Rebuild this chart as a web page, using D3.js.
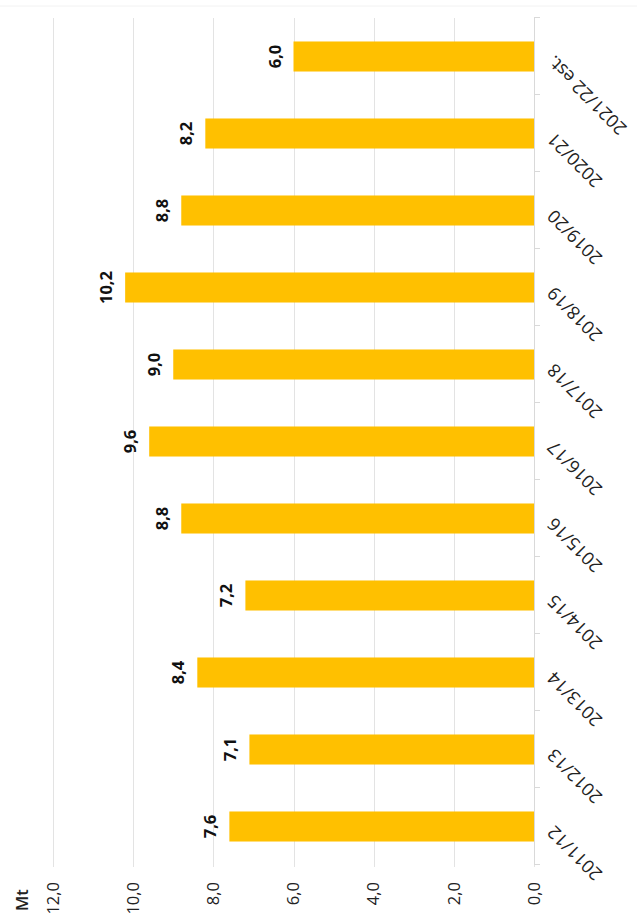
<!DOCTYPE html>
<html>
<head>
<meta charset="utf-8">
<script src="https://cdn.jsdelivr.net/npm/d3@7/dist/d3.min.js"></script>
<style>
  html, body { margin: 0; padding: 0; background: #fff; }
  svg { display: block; }
  text { font-family: "Open Sans", "Noto Sans", sans-serif; }
</style>
</head>
<body>
<div id="chart"></div>
<script>
// Production by season, in million tonnes
const seasons = ["2011/12", "2012/13", "2013/14", "2014/15", "2015/16", "2016/17",
                 "2017/18", "2018/19", "2019/20", "2020/21", "2021/22 est."];
const production = [7.6, 7.1, 8.4, 7.2, 8.8, 9.6, 9.0, 10.2, 8.8, 8.2, 6.0];
const valueTicks = [0, 2, 4, 6, 8, 10, 12];
const unitLabel = "Mt";

const pageW = 637, pageH = 923;
// The chart is laid out as a column chart of width pageH and height pageW,
// then turned a quarter turn counter-clockwise onto the page.
const W = pageH, H = pageW;
const margin = { left: 58, right: 18, top: 53, bottom: 103 };

const fmt = v => d3.format(".1f")(v).replace(".", ",");

const svg = d3.select("#chart").append("svg")
  .attr("width", pageW).attr("height", pageH);

const g = svg.append("g")
  .attr("transform", `translate(0,${pageH}) rotate(-90)`);

const x = d3.scaleBand()
  .domain(seasons)
  .range([margin.left, W - margin.right])
  .padding(0);

const y = d3.scaleLinear()
  .domain([0, 12])
  .range([H - margin.bottom, margin.top]);

// faint frame line along the far edge
g.append("line")
  .attr("x1", W - 6).attr("x2", W - 6)
  .attr("y1", 0).attr("y2", H)
  .attr("stroke", "#f2f2f2").attr("stroke-width", 1);

// gridlines
g.append("g")
  .selectAll("line")
  .data(valueTicks)
  .join("line")
  .attr("x1", margin.left - 2)
  .attr("x2", W - margin.right)
  .attr("y1", d => Math.round(y(d)) + 0.5)
  .attr("y2", d => Math.round(y(d)) + 0.5)
  .attr("stroke", "#e3e3e3")
  .attr("stroke-width", 1);

// value axis labels
g.append("g")
  .selectAll("text")
  .data(valueTicks)
  .join("text")
  .attr("x", 41)
  .attr("y", d => y(d))
  .attr("dy", "0.35em")
  .attr("text-anchor", "end")
  .attr("font-size", 16.5)
  .attr("fill", "#222")
  .text(fmt);

// unit label
g.append("text")
  .attr("x", 12)
  .attr("y", 22)
  .attr("dy", "0.35em")
  .attr("font-size", 16.5)
  .attr("font-weight", 600)
  .attr("fill", "#222")
  .text(unitLabel);

// bars
const barW = x.bandwidth() * 0.39;
g.append("g")
  .selectAll("rect")
  .data(seasons)
  .join("rect")
  .attr("x", (d) => x(d) + (x.bandwidth() - barW) / 2)
  .attr("width", barW)
  .attr("y", (d, i) => y(production[i]))
  .attr("height", (d, i) => y(0) - y(production[i]))
  .attr("fill", "#FFC000");

// value labels
g.append("g")
  .selectAll("text")
  .data(seasons)
  .join("text")
  .attr("x", d => x(d) + x.bandwidth() / 2)
  .attr("y", (d, i) => y(production[i]) - 13)
  .attr("text-anchor", "middle")
  .attr("font-size", 16.5)
  .attr("font-weight", 700)
  .attr("fill", "#111")
  .text((d, i) => fmt(production[i]));

// category axis
const axisY = y(0);
const cat = g.append("g");
cat.append("line")
  .attr("x1", margin.left).attr("x2", W - margin.right)
  .attr("y1", Math.round(axisY) + 0.5).attr("y2", Math.round(axisY) + 0.5)
  .attr("stroke", "#d9d9d9");
const boundaries = seasons.map(d => x(d)).concat([x(seasons[seasons.length - 1]) + x.bandwidth()]);
cat.selectAll("line.tick")
  .data(boundaries)
  .join("line")
  .attr("class", "tick")
  .attr("x1", d => Math.round(d) + 0.5).attr("x2", d => Math.round(d) + 0.5)
  .attr("y1", axisY).attr("y2", axisY + 6)
  .attr("stroke", "#d9d9d9");
cat.selectAll("text")
  .data(seasons)
  .join("text")
  .attr("transform", d => `translate(${x(d) + x.bandwidth() / 2 + 2},${axisY + 21}) rotate(-45)`)
  .attr("text-anchor", "end")
  .attr("font-size", 18)
  .attr("fill", "#222")
  .text(d => d);
</script>
</body>
</html>
